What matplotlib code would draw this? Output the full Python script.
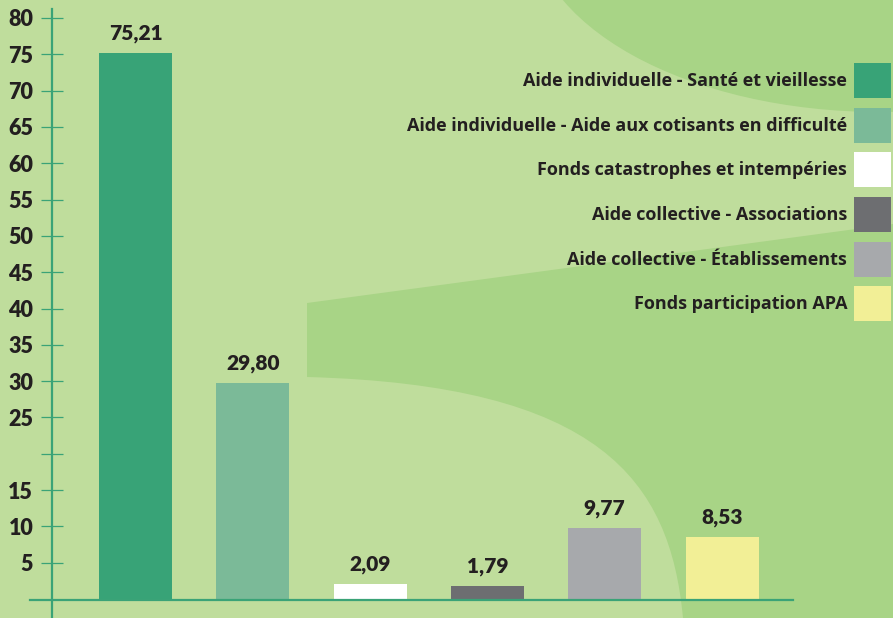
import matplotlib
matplotlib.use("Agg")
import matplotlib.pyplot as plt
from matplotlib.patches import Ellipse, PathPatch
from matplotlib.path import Path

# ---- data ----
categories = [
    "Aide individuelle - Santé et vieillesse",
    "Aide individuelle - Aide aux cotisants en difficulté",
    "Fonds catastrophes et intempéries",
    "Aide collective - Associations",
    "Aide collective - Établissements",
    "Fonds participation APA",
]
values = [75.21, 29.80, 2.09, 1.79, 9.77, 8.53]
colors = ["#38a377", "#7bba98", "#ffffff", "#6d6e71", "#a7a9ac", "#f2ef96"]
yticks = [5, 10, 15, 20, 25, 30, 35, 40, 45, 50, 55, 60, 65, 70, 75, 80]
ytick_labels = ["5", "10", "15", "", "25", "30", "35", "40", "45", "50",
                "55", "60", "65", "70", "75", "80"]

TXT = "#231f20"
GREEN = "#3aa377"
LIGHT = "#bfdd9c"
DARK = "#a8d486"
FONT = ["Lato", "DejaVu Sans"]
LEGFONT = ["Open Sans", "DejaVu Sans"]
plt.rcParams["font.family"] = FONT

W, H = 893, 618
fig = plt.figure(figsize=(W / 100, H / 100), dpi=100)
fig.patch.set_facecolor(LIGHT)

# ---- decorative background ----
bg = fig.add_axes([0, 0, 1, 1], zorder=0)
bg.set_xlim(0, W)
bg.set_ylim(H, 0)
bg.axis("off")
bg.add_patch(Ellipse((880, -82), 700, 388, facecolor=DARK, edgecolor="none"))
verts = [(307, 303), (893, 224), (893, 618), (683, 618),
         (670, 480), (600, 385), (307, 377), (307, 303)]
codes = [Path.MOVETO, Path.LINETO, Path.LINETO, Path.LINETO,
         Path.CURVE4, Path.CURVE4, Path.CURVE4, Path.CLOSEPOLY]
bg.add_patch(PathPatch(Path(verts, codes), facecolor=DARK, edgecolor="none"))

# ---- main axes ----
ax = fig.add_axes([0, 0, 1, 1], zorder=1)
ax.patch.set_alpha(0)
px_per_unit_y = 7.2625
y0_px = 19  # pixels from bottom for value 0
ax.set_ylim(-y0_px / px_per_unit_y, (H - y0_px) / px_per_unit_y)
step = 117.3
x0 = 135.5
ax.set_xlim(-x0 / step, (W - x0) / step)

xs = list(range(len(values)))
bars = ax.bar(xs, values, width=73 / step, color=colors, edgecolor="none",
              zorder=2)

labels = [f"{v:.2f}".replace(".", ",") for v in values]
ax.bar_label(bars, labels=labels, padding=7, fontsize=15, fontweight="heavy",
             color=TXT, family=FONT)

# axes lines
for s in ["top", "right"]:
    ax.spines[s].set_visible(False)
ax.spines["left"].set_position(("data", (52 - x0) / step))
ax.spines["left"].set_bounds(ax.get_ylim()[0], (H - y0_px - 9) / px_per_unit_y)
ax.spines["bottom"].set_position(("data", -0.15))
ax.spines["bottom"].set_bounds((30 - x0) / step, (793 - x0) / step)
for s in ["left", "bottom"]:
    ax.spines[s].set_color(GREEN)
    ax.spines[s].set_linewidth(1.6)
    ax.spines[s].set_zorder(3)

ax.set_xticks([])
ax.set_yticks(yticks)
ax.set_yticklabels(ytick_labels, fontsize=15.5, fontweight="heavy", color=TXT)
ax.tick_params(axis="y", direction="inout", length=16, width=0.9,
               color=GREEN, pad=5.5)

# legend (sizes in points: 1 px = 0.72 pt at 100 dpi)
fs = 13
patch_h_pt = 35 * 0.72
patch_w_pt = 37 * 0.72
hh = (patch_h_pt / fs - 0.245) / 0.65
leg = ax.legend(bars.patches, categories, loc="upper right",
                bbox_to_anchor=(891 / W, 1 - 63 / H), bbox_transform=fig.transFigure,
                markerfirst=False, frameon=False, borderpad=0, borderaxespad=0,
                handlelength=patch_w_pt / fs, handleheight=hh,
                handletextpad=7 * 0.72 / fs, labelspacing=9.7 * 0.72 / fs,
                prop={"family": LEGFONT, "weight": "bold", "size": fs})
for t in leg.get_texts():
    t.set_color(TXT)

fig.savefig("out.png", dpi=100, facecolor=LIGHT)
